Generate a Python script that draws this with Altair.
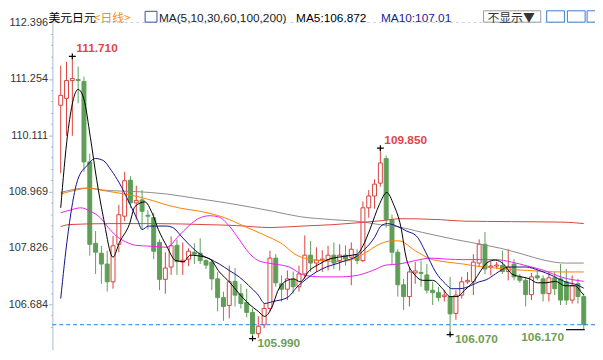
import altair as alt
import pandas as pd

# ---------------- data ----------------
opens = [110.72, 110.86, 111.22, 111.24, 111.20, 109.57, 107.92, 107.72, 107.50, 107.14,
         107.90, 108.47, 109.20, 108.74, 108.80, 108.49, 108.44, 107.94, 107.19, 107.44,
         107.88, 107.54, 107.60, 107.74, 107.72, 107.57, 107.54, 107.20, 106.82, 106.66,
         107.15, 106.90, 106.72, 106.52, 106.09, 106.27, 106.60, 107.62, 107.10, 106.99,
         107.19, 107.04, 107.30, 107.68, 107.52, 107.58, 107.59, 107.68, 107.57, 107.68,
         107.64, 107.67, 107.57, 108.64, 108.88, 109.14, 109.64, 108.40, 107.74, 107.08,
         106.84, 107.32, 107.33, 107.28, 106.97, 106.92, 106.84, 106.84, 106.50, 106.87,
         107.14, 107.14, 107.52, 107.90, 107.44, 107.46, 107.47, 107.35, 107.50, 107.24,
         107.17, 106.88, 107.26, 107.20, 106.90, 107.22, 107.20, 107.14, 106.77, 107.10,
         106.84]
highs = [111.52, 111.60, 111.71, 111.50, 111.30, 109.74, 108.17, 107.87, 107.77, 108.07,
         108.70, 109.37, 109.28, 109.09, 109.00, 108.59, 108.54, 108.00, 107.74, 108.06,
         108.00, 107.94, 107.82, 107.92, 108.02, 107.60, 107.60, 107.34, 106.94, 107.47,
         107.42, 107.10, 107.00, 106.60, 106.44, 106.70, 107.77, 107.70, 107.27, 107.37,
         107.35, 107.47, 108.08, 107.97, 107.84, 107.78, 107.87, 107.94, 107.90, 107.88,
         107.94, 107.80, 108.77, 109.00, 109.22, 109.85, 109.70, 108.50, 107.80, 107.20,
         107.44, 107.54, 107.57, 107.50, 107.14, 107.04, 106.97, 107.24, 106.97, 107.24,
         107.34, 107.70, 108.00, 108.15, 107.55, 107.54, 107.77, 107.80, 107.60, 107.30,
         107.24, 107.32, 107.37, 107.27, 107.34, 107.34, 107.50, 107.40, 107.27, 107.20,
         106.90]
lows = [109.34, 110.10, 110.10, 110.76, 109.37, 107.67, 107.30, 107.10, 106.94, 107.00,
        107.74, 108.37, 108.64, 108.40, 108.20, 108.20, 107.60, 106.97, 106.90, 107.28,
        107.28, 107.28, 107.46, 107.50, 107.50, 107.40, 106.97, 106.54, 106.35, 106.40,
        106.64, 106.60, 106.42, 105.99, 106.00, 106.20, 106.54, 107.04, 106.74, 106.77,
        106.90, 106.94, 107.20, 107.34, 107.34, 107.34, 107.37, 107.40, 107.37, 107.47,
        107.07, 107.50, 107.54, 108.44, 108.62, 109.07, 108.24, 107.48, 106.84, 106.57,
        106.64, 107.10, 107.04, 106.90, 106.67, 106.74, 106.74, 106.07, 106.37, 106.80,
        107.10, 106.87, 107.44, 107.30, 107.27, 107.40, 107.30, 107.17, 107.17, 107.12,
        106.64, 106.77, 107.17, 106.74, 106.74, 106.87, 106.67, 106.67, 106.70, 106.70,
        106.17]
closes = [110.92, 111.22, 111.26, 111.22, 109.57, 107.90, 107.74, 107.50, 107.14, 107.87,
          108.50, 109.19, 108.74, 108.79, 108.57, 108.47, 107.76, 107.19, 107.42, 107.87,
          107.55, 107.58, 107.76, 107.70, 107.57, 107.48, 107.20, 106.82, 106.64, 107.14,
          106.87, 106.70, 106.52, 106.09, 106.24, 106.60, 107.62, 107.12, 106.99, 107.20,
          107.04, 107.30, 107.68, 107.52, 107.58, 107.60, 107.68, 107.52, 107.68, 107.60,
          107.80, 107.57, 108.64, 108.88, 109.12, 109.55, 108.40, 107.74, 107.08, 106.84,
          107.34, 107.36, 107.31, 106.97, 106.92, 106.82, 106.87, 106.49, 106.87, 107.14,
          107.17, 107.54, 107.90, 107.40, 107.46, 107.48, 107.35, 107.44, 107.24, 107.17,
          106.88, 107.24, 107.22, 106.90, 107.22, 107.00, 106.77, 106.77, 107.06, 106.84,
          106.27]

ma5_idx = [0, 1.2, 3, 4, 5.1, 6.2, 7.3, 9, 10.1, 11.8, 12.8, 14.5, 15.7, 16.8, 18.2, 19.8,
           21.2, 22.3, 23.5, 25.7, 27.3, 29, 30.7, 32.3, 34, 35.1, 36.5, 37.3, 39, 40.1, 41.2,
           42.8, 44.5, 46.2, 47.8, 49.5, 51, 52, 53.2, 54.8, 56.1, 57.3, 58.5, 59.5, 61, 62.3,
           64, 65.7, 67, 68.2, 69.5, 71.2, 72.3, 73.5, 74.8, 76.2, 77.6, 79.3, 80.7, 82, 83.5,
           85.1, 86.8, 88.5, 89.5, 90]
ma5_val = [108.64, 110.14, 111.04, 110.84, 110.07, 109.20, 108.47, 107.64, 107.94, 108.30,
           108.67, 108.76, 108.54, 108.20, 107.87, 107.57, 107.55, 107.68, 107.67, 107.60,
           107.34, 107.14, 106.90, 106.70, 106.54, 106.44, 106.67, 106.94, 107.17, 107.20,
           107.14, 107.37, 107.50, 107.60, 107.64, 107.67, 107.70, 107.87, 108.20, 108.70,
           108.95, 108.70, 108.27, 107.60, 107.27, 107.17, 107.17, 107.00, 106.84, 106.84,
           106.97, 107.17, 107.37, 107.54, 107.58, 107.50, 107.30, 107.24, 107.20, 107.12,
           107.12, 107.15, 107.06, 107.06, 106.94, 106.872]

ma10_idx = [0, 1.2, 2.9, 4.55, 5.95, 7.3, 8.7, 10.1, 11.8, 13.2, 14, 15.1, 16.8, 18.2, 19.3,
            20.7, 22.3, 24, 25.7, 27.3, 29, 30.7, 32.3, 34, 35.1, 36.5, 39, 40.7, 42.3, 44,
            45.7, 47.3, 49, 50.7, 52.3, 54, 55.1, 56.2, 57.8, 59.5, 61.2, 62.8, 64.5, 66.2,
            67.3, 68.7, 70.7, 72, 73.2, 74.8, 75.7, 77, 78, 80.1, 82.3, 84.5, 86.8, 89, 90]
ma10_val = [106.80, 108.07, 109.20, 109.50, 109.64, 109.60, 109.40, 109.14, 108.74, 108.40,
            108.20, 108.27, 108.27, 108.27, 108.24, 108.07, 107.87, 107.70, 107.60, 107.50,
            107.37, 107.24, 107.07, 106.87, 106.70, 106.74, 106.82, 107.04, 107.20, 107.34,
            107.44, 107.50, 107.57, 107.64, 107.80, 108.04, 108.27, 108.32, 108.27, 108.17,
            108.07, 107.74, 107.34, 107.10, 107.00, 107.00, 107.07, 107.14, 107.18, 107.30,
            107.37, 107.44, 107.44, 107.44, 107.37, 107.27, 107.14, 107.07, 107.01]

ma30_idx = [0, 1.8, 3.45, 5.1, 6.8, 8.2, 9.55, 11.2, 12.9, 15.7, 18.2, 20.3, 22, 24, 25.7,
            27.3, 29, 30.7, 32.3, 34, 35.7, 39.3, 42, 44.8, 48.2, 51, 53.7, 56, 58.2, 61,
            63.7, 66.5, 69.3, 72, 74.8, 77.6, 80.3, 83.2, 86, 90]
ma30_val = [108.54, 108.60, 108.64, 108.57, 108.44, 108.24, 108.07, 107.95, 107.88, 107.86,
            107.84, 108.07, 108.27, 108.44, 108.48, 108.45, 108.27, 108.00, 107.74, 107.57,
            107.52, 107.44, 107.27, 107.24, 107.24, 107.27, 107.37, 107.48, 107.50, 107.57,
            107.62, 107.60, 107.59, 107.59, 107.59, 107.54, 107.46, 107.37, 107.24, 107.15]

ma60_idx = [0, 2.6, 4.8, 7.3, 10, 13.5, 16, 18.2, 20.3, 24.8, 28.2, 31.5, 34.8, 38.2, 40.3,
            42.6, 44.8, 48.2, 50.3, 52.6, 54.8, 57, 58.2, 61, 63.7, 66.5, 69.3, 72, 74.8,
            77.6, 80.3, 83.2, 86, 90]
ma60_val = [108.92, 109.00, 109.04, 108.99, 108.94, 108.86, 108.78, 108.70, 108.64, 108.55,
            108.44, 108.27, 108.10, 107.90, 107.70, 107.60, 107.57, 107.55, 107.60, 107.74,
            107.90, 107.97, 107.97, 107.77, 107.60, 107.54, 107.50, 107.45, 107.42, 107.39,
            107.37, 107.35, 107.34, 107.34]

ma100_idx = [0, 1.5, 8.2, 16.5, 24.8, 30.3, 36, 41.5, 47, 51.5, 56, 58.2, 65.3, 69.3, 77.6,
             86, 88.2, 90]
ma100_val = [108.26, 108.30, 108.32, 108.32, 108.30, 108.28, 108.24, 108.27, 108.30, 108.34,
             108.39, 108.42, 108.40, 108.37, 108.36, 108.35, 108.34, 108.32]

ma200_idx = [0, 4.3, 8.2, 12.8, 18.2, 22.8, 28.5, 36.5, 41.2, 46.8, 52.3, 54.8, 57.3, 62.3,
             67.8, 73.2, 75.7, 79.5, 83.5, 86.8, 90]
ma200_val = [108.95, 109.04, 108.99, 108.97, 108.92, 108.84, 108.74, 108.57, 108.46, 108.40,
             108.35, 108.30, 108.27, 108.14, 108.00, 107.88, 107.82, 107.70, 107.57, 107.52,
             107.52]

hi_idx = [2, 55]
hi_val = [111.71, 109.85]
lo_idx = [33, 67, 90]
lo_val = [105.99, 106.07, 106.17]

y_ticks = [106.684, 107.826, 108.969, 110.111, 111.254, 112.396]

# ---------------- chart ----------------
RED = "#D9403A"
GREEN = "#5E9E57"
W, H = 550, 332
xs = alt.Scale(domain=[-0.5833, 91.0833], nice=False, zero=False)
ys = alt.Scale(domain=[105.764, 112.404], nice=False, zero=False)
XN = alt.X("i:Q", scale=xs, axis=None)

# minor ticks: 5 per major interval
step = (y_ticks[-1] - y_ticks[0]) / 25
minor_vals = [round(y_ticks[0] + k * step, 4) for k in range(-2, 26)]
MAJOR_TEST = ("abs((datum.value - 106.684) / 1.14240 - round((datum.value - 106.684) / 1.14240))"
              " < 0.02")
YAX = alt.Axis(
    values=minor_vals, title=None, grid=False, labelOverlap=False, labelFlush=False,
    labelExpr=f"{MAJOR_TEST} ? format(datum.value, '.3f') : ''",
    labelFont="Liberation Sans", labelFontSize=11, labelColor="#333333",
    labelPadding=1,
    tickSize={"condition": {"test": MAJOR_TEST, "value": 4}, "value": 2},
    tickColor="#A8BCD0", domainColor="#A8BCD0")


def Y(field):
    return alt.Y(field, scale=ys, axis=YAX)


candles = pd.DataFrame({"i": list(range(len(opens))), "open": opens, "high": highs,
                        "low": lows, "close": closes})
up = "datum.close >= datum.open"

topgrid = alt.Chart(pd.DataFrame({"v": [y_ticks[-1]]})).mark_rule(
    color="#C8D2DC", strokeDash=[3, 3], strokeWidth=1).encode(y=Y("v:Q"))

wicks = alt.Chart(candles).mark_rule(strokeWidth=1).encode(
    x=XN, y=Y("low:Q"), y2="high:Q",
    color=alt.condition(up, alt.value(RED), alt.value(GREEN)),
)
bodies = alt.Chart(candles).mark_bar(size=4, strokeWidth=1).encode(
    x=XN, y=Y("open:Q"), y2="close:Q",
    fill=alt.condition(up, alt.value("white"), alt.value(GREEN)),
    stroke=alt.condition(up, alt.value(RED), alt.value(GREEN)),
)


def ma_layer(ix, vals, color):
    d = pd.DataFrame({"i": ix, "v": vals})
    return alt.Chart(d).mark_line(color=color, strokeWidth=1, interpolate="monotone").encode(
        x=XN, y=Y("v:Q"))


mas = [ma_layer(ma200_idx, ma200_val, "#8A8A8A"),
       ma_layer(ma100_idx, ma100_val, "#D8443A"),
       ma_layer(ma60_idx, ma60_val, "#FF8000"),
       ma_layer(ma30_idx, ma30_val, "#F01EF0"),
       ma_layer(ma10_idx, ma10_val, "#10108C"),
       ma_layer(ma5_idx, ma5_val, "#000000")]

last = alt.Chart(pd.DataFrame({"v": [closes[-1]]})).mark_rule(
    color="#1E7BE0", strokeDash=[4, 3], strokeWidth=1).encode(y=Y("v:Q"))

hi_df = pd.DataFrame({"i": hi_idx, "v": hi_val})
lo_df = pd.DataFrame({"i": lo_idx, "v": lo_val})
PLUS = "M-1,0L1,0M0,-0.8L0,0.8"
hi_mark = alt.Chart(hi_df).mark_point(shape=PLUS, size=49, stroke="black", strokeWidth=1.2,
                                      filled=False, opacity=1).encode(x=XN, y=Y("v:Q"))
hi_text = alt.Chart(hi_df).mark_text(align="left", baseline="middle", dx=4, dy=-8,
                                     font="Liberation Sans", fontSize=12, fontWeight="bold",
                                     color="#E0464A").encode(
    x=XN, y=Y("v:Q"), text=alt.Text("v:Q", format=".3f"))
lo_mark = alt.Chart(lo_df).transform_filter("datum.i < 90").mark_point(
    shape=PLUS, size=49, stroke="black", strokeWidth=1.2, filled=False, opacity=1).encode(
    x=XN, y=Y("v:Q"))
lo_mark_last = alt.Chart(lo_df).transform_filter("datum.i >= 90").mark_point(
    shape="M-9,0L0.5,0", size=16, stroke="black", strokeWidth=1.2, filled=False,
    opacity=1).encode(x=XN, y=Y("v:Q"))
lo_text = alt.Chart(lo_df).transform_filter("datum.i < 90").mark_text(
    align="left", baseline="middle", dx=5, dy=5, font="Liberation Sans", fontSize=12,
    fontWeight="bold", color="#6E9E55").encode(
    x=XN, y=Y("v:Q"), text=alt.Text("v:Q", format=".3f"))
lo_text_last = alt.Chart(lo_df).transform_filter("datum.i >= 90").mark_text(
    align="right", baseline="middle", dx=-20, dy=7, font="Liberation Sans", fontSize=12,
    fontWeight="bold", color="#6E9E55").encode(
    x=XN, y=Y("v:Q"), text=alt.Text("v:Q", format=".3f"))

ONE = pd.DataFrame({"k": [0]})


def htext(t, x, color, font="Liberation Sans", size=12):
    return alt.Chart(ONE).mark_text(text=t, x=x, y=-4.5, align="left", baseline="middle",
                                    font=font, fontSize=size, color=color)


CJK = "Noto Sans CJK SC"
header = [
    htext("美元日元", -4, "#000000", CJK),
    htext("<日线>", 42, "#F0901E", CJK),
    alt.Chart(ONE).mark_rect(x=94, x2=106, y=-11, y2=0, fill="white", stroke="#3050A0",
                             strokeWidth=1),
    htext("MA(5,10,30,60,100,200)", 108, "#222222"),
    htext("MA5:106.872", 247, "#000000"),
    htext("MA10:107.01", 333, "#1A1AA0"),
    alt.Chart(ONE).mark_rect(x=437, x2=495, y=-11.5, y2=0, fill="white", stroke="#9A9A9A",
                             strokeWidth=1),
    htext("不显示▼", 441, "#333333", CJK),
    alt.Chart(ONE).mark_rect(x=501, x2=519, y=-11.5, y2=0, fill="white", stroke="#3A7BD5",
                             strokeWidth=1),
    alt.Chart(ONE).mark_rect(x=522, x2=540, y=-11.5, y2=0, fill="white", stroke="#3A7BD5",
                             strokeWidth=1),
    alt.Chart(ONE).mark_rect(x=542, x2=560, y=-11.5, y2=0, fill="white", stroke="#3A7BD5",
                             strokeWidth=1),
]

chart = alt.layer(
    topgrid, wicks, bodies, *mas, last, hi_mark, hi_text, lo_mark, lo_mark_last, lo_text,
    lo_text_last, *header
).properties(
    width=W, height=H,
    autosize=alt.AutoSizeParams(type="none"),
    padding={"left": 45, "top": 12, "right": 0, "bottom": 0},
    background="white",
).configure_view(stroke=None)

chart.save("out.html", embed_options={"renderer": "svg", "actions": False})
